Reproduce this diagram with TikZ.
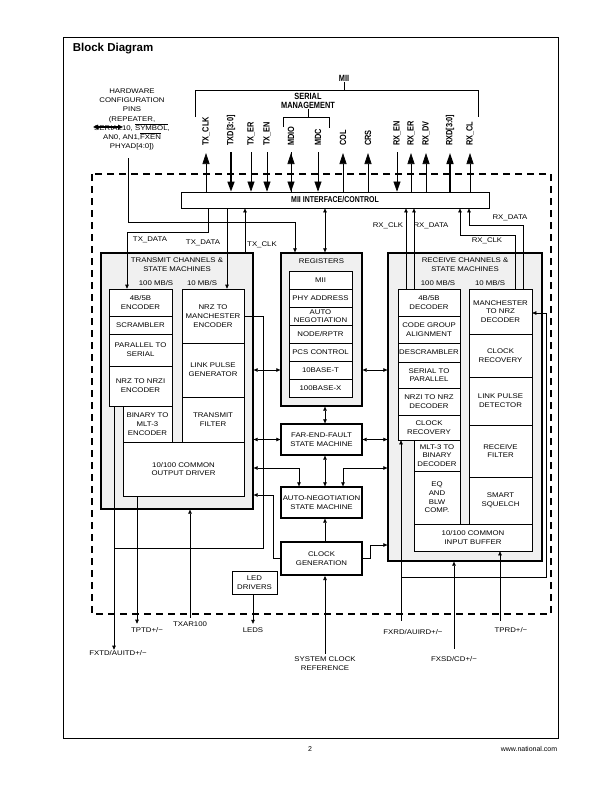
\documentclass[tikz,border=0pt]{standalone}
\usepackage{fontspec}
\setmainfont{Liberation Sans}
\newfontfamily\lblfont[FakeStretch=1.15]{Liberation Sans}
\newfontfamily\pinfont[FakeStretch=0.82]{Liberation Sans}
\usetikzlibrary{arrows.meta}

\begin{document}
\begin{tikzpicture}[x=1pt,y=-1pt,line width=0.6pt,
  every node/.style={font=\lblfont\fontsize{6.8pt}{8.7pt}\selectfont,inner sep=0.5pt,align=center},
  bx/.style 2 args={draw,fill=white,minimum width=#1,minimum height=#2},
  thk/.style 2 args={draw,line width=1.3pt,fill=white,minimum width=#1,minimum height=#2},
  grp/.style 2 args={draw,line width=1.3pt,fill=black!6,minimum width=#1,minimum height=#2},
  sigpin/.style={rotate=90,anchor=west,inner sep=0pt,font=\pinfont\bfseries\fontsize{9pt}{10pt}\selectfont},
  hdr/.style={font=\pinfont\bfseries\fontsize{9pt}{8.5pt}\selectfont},
  sig/.style={-{Triangle[length=4pt,width=3.5pt]}},
  bisig/.style={{Triangle[length=4pt,width=3.5pt]}-{Triangle[length=4pt,width=3.5pt]}},
  pinout/.style={-{Triangle[length=11pt,width=7pt]}},
  pinin/.style={-{Triangle[length=10pt,width=7pt]}}]
  \useasboundingbox (0,0) rectangle (612,792);
  \draw[line width=0.8pt] (63,37) rectangle (558,738);
  \node[anchor=west,font=\fontsize{11.5pt}{13pt}\selectfont\bfseries] (title) at (72,49) {Block Diagram};
  \node[font=\fontsize{7pt}{8pt}\selectfont] (pgno) at (310,749) {2};
  \node[anchor=east,font=\fontsize{7pt}{8pt}\selectfont] (url) at (558,749) {www.national.com};
  \draw[line width=1.3pt,dash pattern=on 7pt off 5pt] (92,174) rectangle (551,614);

  \node[hdr] (mii) at (344,78) {MII};
  \draw[line width=0.8pt] (195,117) |- (478,90) -- (478,117);
  \draw[line width=0.8pt] (mii.south) -- (mii.south |- 0,90);
  \node[hdr] (serial) at (308,101) {SERIAL\\MANAGEMENT};
  \draw[line width=0.8pt] (283,127) |- (329,117) -- (329,128);
  \draw[line width=0.8pt] (serial.south) -- (serial.south |- 0,117);

  \node[font=\lblfont\fontsize{6.8pt}{9.2pt}\selectfont] (hwcfg) at (132,119.5)
    {HARDWARE\\CONFIGURATION\\PINS\\(REPEATER,\\SERIAL10, $\overline{\hbox{SYMBOL}}$,\\AN0, AN1,$\overline{\hbox{FXEN}}$\\PHYAD[4:0])};
  \draw[{Triangle[length=5pt,width=4.5pt]}-{Triangle[length=5pt,width=4.5pt]},line width=1.3pt] (93,127) -- (123,127);
  \coordinate (hwpin) at (128,158);

  \node[bx={308}{16},line width=0.8pt,font=\pinfont\bfseries\fontsize{8.5pt}{9pt}\selectfont] (miiif) at (335,200) {MII INTERFACE/CONTROL};
  \foreach \px/\pt/\pn in {206/TX\_CLK/txclk, 231/TXD[3:0]/txd, 251/TX\_ER/txer, 267/TX\_EN/txen,
      291/MDIO/mdio, 318/MDC/mdc, 343/COL/col, 368/CRS/crs, 397/RX\_EN/rxen,
      411/RX\_ER/rxer, 426/RX\_DV/rxdv, 450/RXD[3:0]/rxd, 470/RX\_CL/rxcl}
    \node[sigpin] (\pn) at (\px,146) {\pt};
  \foreach \pn in {txclk,mdio,col,crs,rxer,rxdv,rxcl}
    \draw[pinout,shorten >=7pt] (miiif.north -| \pn.west) -- (\pn.west);
  \foreach \pn in {txer,txen,mdio,mdc,rxen}
    \draw[pinin,shorten <=6pt] (\pn.west) -- (miiif.north -| \pn.west);
  \draw[pinin,line width=1.6pt,shorten <=6pt] (txd.west) -- (miiif.north -| txd.west);
  \draw[pinout,line width=1.6pt,shorten >=7pt] (miiif.north -| rxd.west) -- (rxd.west);

  \node[grp={152}{256}] (txgrp) at (177,381) {};
  \node (txttl) at (177,264.5) {TRANSMIT CHANNELS \&\\STATE MACHINES};
  \node (tx100) at (156,283) {100 MB/S};
  \node (tx10) at (202,283) {10 MB/S};
  \node[bx={63}{27}] (enc45) at (140.5,302.5) {4B/5B\\ENCODER};
  \node[bx={63}{18}] (scram) at (140.5,325) {SCRAMBLER};
  \node[bx={63}{32}] (p2s) at (140.5,350) {PARALLEL TO\\SERIAL};
  \node[bx={63}{40}] (nrzi) at (140.5,386) {NRZ TO NRZI\\ENCODER};
  \node[bx={49}{36}] (mlt3) at (147.5,424) {BINARY TO\\MLT-3\\ENCODER};
  \node[bx={121}{54}] (drv) at (183.5,469) {10/100 COMMON\\OUTPUT DRIVER};
  \node[bx={62}{54}] (manenc) at (213,316) {NRZ TO\\MANCHESTER\\ENCODER};
  \node[bx={62}{54}] (lpg) at (213,370) {LINK PULSE\\GENERATOR};
  \node[bx={62}{45}] (txflt) at (213,419.5) {TRANSMIT\\FILTER};

  \node[grp={81}{153}] (regs) at (321.5,329.5) {};
  \node (regttl) at (321.5,261) {REGISTERS};
  \node[bx={63}{18}] (rmii) at (320.5,280) {MII};
  \node[bx={63}{18}] (rphy) at (320.5,298) {PHY ADDRESS};
  \node[bx={63}{18},font=\lblfont\fontsize{6.8pt}{7.6pt}\selectfont] (rauto) at (320.5,316) {AUTO\\NEGOTIATION};
  \node[bx={63}{18}] (rnode) at (320.5,334) {NODE/RPTR};
  \node[bx={63}{18}] (rpcs) at (320.5,352) {PCS CONTROL};
  \node[bx={63}{18}] (r10t) at (320.5,370) {10BASE-T};
  \node[bx={63}{18}] (r100x) at (320.5,388) {100BASE-X};

  \node[thk={81}{31}] (fef) at (321.5,439.5) {FAR-END-FAULT\\STATE MACHINE};
  \node[thk={81}{31}] (an) at (321.5,502.5) {AUTO-NEGOTIATION\\STATE MACHINE};
  \node[thk={81}{33},line width=2pt] (clk) at (321.5,558.5) {CLOCK\\GENERATION};
  \node[bx={45}{23}] (led) at (254.5,582.5) {LED\\DRIVERS};

  \node[grp={154}{308}] (rxgrp) at (465,407) {};
  \node (rxttl) at (465,264.5) {RECEIVE CHANNELS \&\\STATE MACHINES};
  \node (rx100) at (438,283) {100 MB/S};
  \node (rx10) at (490,283) {10 MB/S};
  \node[bx={62}{27}] (dec45) at (429,302.5) {4B/5B\\DECODER};
  \node[bx={62}{27}] (cga) at (429,329.5) {CODE GROUP\\ALIGNMENT};
  \node[bx={62}{19}] (descr) at (429,352.5) {DESCRAMBLER};
  \node[bx={62}{26}] (s2p) at (429,375) {SERIAL TO\\PARALLEL};
  \node[bx={62}{27}] (nrzdec) at (429,401.5) {NRZI TO NRZ\\DECODER};
  \node[bx={62}{25}] (clkrec1) at (429,427.5) {CLOCK\\RECOVERY};
  \node[bx={46}{31}] (mltdec) at (437,455.5) {MLT-3 TO\\BINARY\\DECODER};
  \node[bx={46}{53}] (eq) at (437,497.5) {EQ\\AND\\BLW\\COMP.};
  \node[bx={118}{27}] (ibuf) at (473,537.5) {10/100 COMMON\\INPUT BUFFER};
  \node[bx={63}{45}] (mandec) at (500.5,311.5) {MANCHESTER\\TO NRZ\\DECODER};
  \node[bx={63}{43}] (clkrec2) at (500.5,355.5) {CLOCK\\RECOVERY};
  \node[bx={63}{48}] (lpd) at (500.5,401) {LINK PULSE\\DETECTOR};
  \node[bx={63}{52}] (rxflt) at (500.5,451) {RECEIVE\\FILTER};
  \node[bx={63}{47}] (squelch) at (500.5,500.5) {SMART\\SQUELCH};

  \node (lbtxd1) at (150,240) {TX\_DATA};
  \node (lbtxd2) at (203,243) {TX\_DATA};
  \node (lbtxclk) at (262,245) {TX\_CLK};
  \node (lbrxclk1) at (388,226) {RX\_CLK};
  \node (lbrxd1) at (431,226) {RX\_DATA};
  \node (lbrxd2) at (510,218) {RX\_DATA};
  \node (lbrxclk2) at (487,241) {RX\_CLK};
  \node (fxtd) at (118,653) {FXTD/AUITD+/−};
  \node (tptd) at (147,630) {TPTD+/−};
  \node (txar) at (190,624) {TXAR100};
  \node (leds) at (253,630) {LEDS};
  \node (sysclk) at (325,663.5) {SYSTEM CLOCK\\REFERENCE};
  \node (fxrd) at (413,632) {FXRD/AUIRD+/−};
  \node (fxsd) at (454,659) {FXSD/CD+/−};
  \node (tprd) at (511,630) {TPRD+/−};

  \draw[sig] (hwpin) -- (128,222) -| ([xshift=-26.5pt]regs.north);
  \draw[sig] (miiif.south -| 208,0) |- (127,232) -- (enc45.north -| 127,0);
  \draw[sig] (miiif.south -| 227,0) -- (manenc.north -| 227,0);
  \draw[sig] (txgrp.north -| 245,0) -- (miiif.south -| 245,0);
  \draw[bisig] (miiif.south -| 325,0) -- (regs.north -| 325,0);
  \draw[sig] (dec45.north -| 406,0) -- (miiif.south -| 406,0);
  \draw[sig] (dec45.north -| 414,0) -- (miiif.south -| 414,0);
  \draw[sig] (mandec.north -| 515,0) |- (460,235) -- (miiif.south -| 460,0);
  \draw[sig] (mandec.north -| 523,0) |- (469,225) -- (miiif.south -| 469,0);

  \draw[bisig] (txgrp.east |- 0,370) -- (regs.west |- 0,370);
  \draw[bisig] (regs.east |- 0,370) -- (rxgrp.west |- 0,370);
  \draw[bisig] (txgrp.east |- fef.west) -- (fef.west);
  \draw[bisig] (fef.east) -- (rxgrp.west |- fef.east);
  \draw[bisig] (txgrp.east |- 0,468) -| (an.north -| 299,0);
  \draw[bisig] (rxgrp.west |- 0,468) -| (an.north -| 343,0);
  \draw[bisig] (regs.south -| 325,0) -- (fef.north -| 325,0);
  \draw[bisig] (fef.south -| 325,0) -- (an.north -| 325,0);
  \draw[sig] (clk.north -| 325,0) -- (an.south -| 325,0);
  \draw[sig] (clk.west) -| (273,495) -- (txgrp.east |- 0,495);
  \draw[sig] (clk.east) -| (370,545) -- (rxgrp.west |- 0,545);

  \draw (manenc.east) -| (263,548) -- (114,548);
  \draw[sig] (nrzi.south -| 114,0) -- (fxtd.north -| 114,0);
  \draw[sig,shorten >=3pt] (drv.south -| 137,0) -- (tptd.north -| 137,0);
  \draw[sig,shorten <=3pt] (txar.north) -- (txar.north |- txgrp.south);
  \draw[sig,shorten >=3pt] (led.south -| leds.north) -- (leds.north);
  \draw[sig,shorten <=2pt] (sysclk.north) -- (sysclk.north |- clk.south);

  \draw[sig,shorten <=8pt] (fxrd.north -| 401,0) -- (clkrec1.south -| 401,0);
  \draw[sig] (401,577) -| (546,313) -- (mandec.east |- 0,313);
  \draw[sig,shorten <=7pt] (fxsd.north) -- (fxsd.north |- rxgrp.south);
  \draw[sig,shorten <=6pt] (tprd.north -| 500,0) -- (ibuf.south -| 500,0);
\end{tikzpicture}
\end{document}
